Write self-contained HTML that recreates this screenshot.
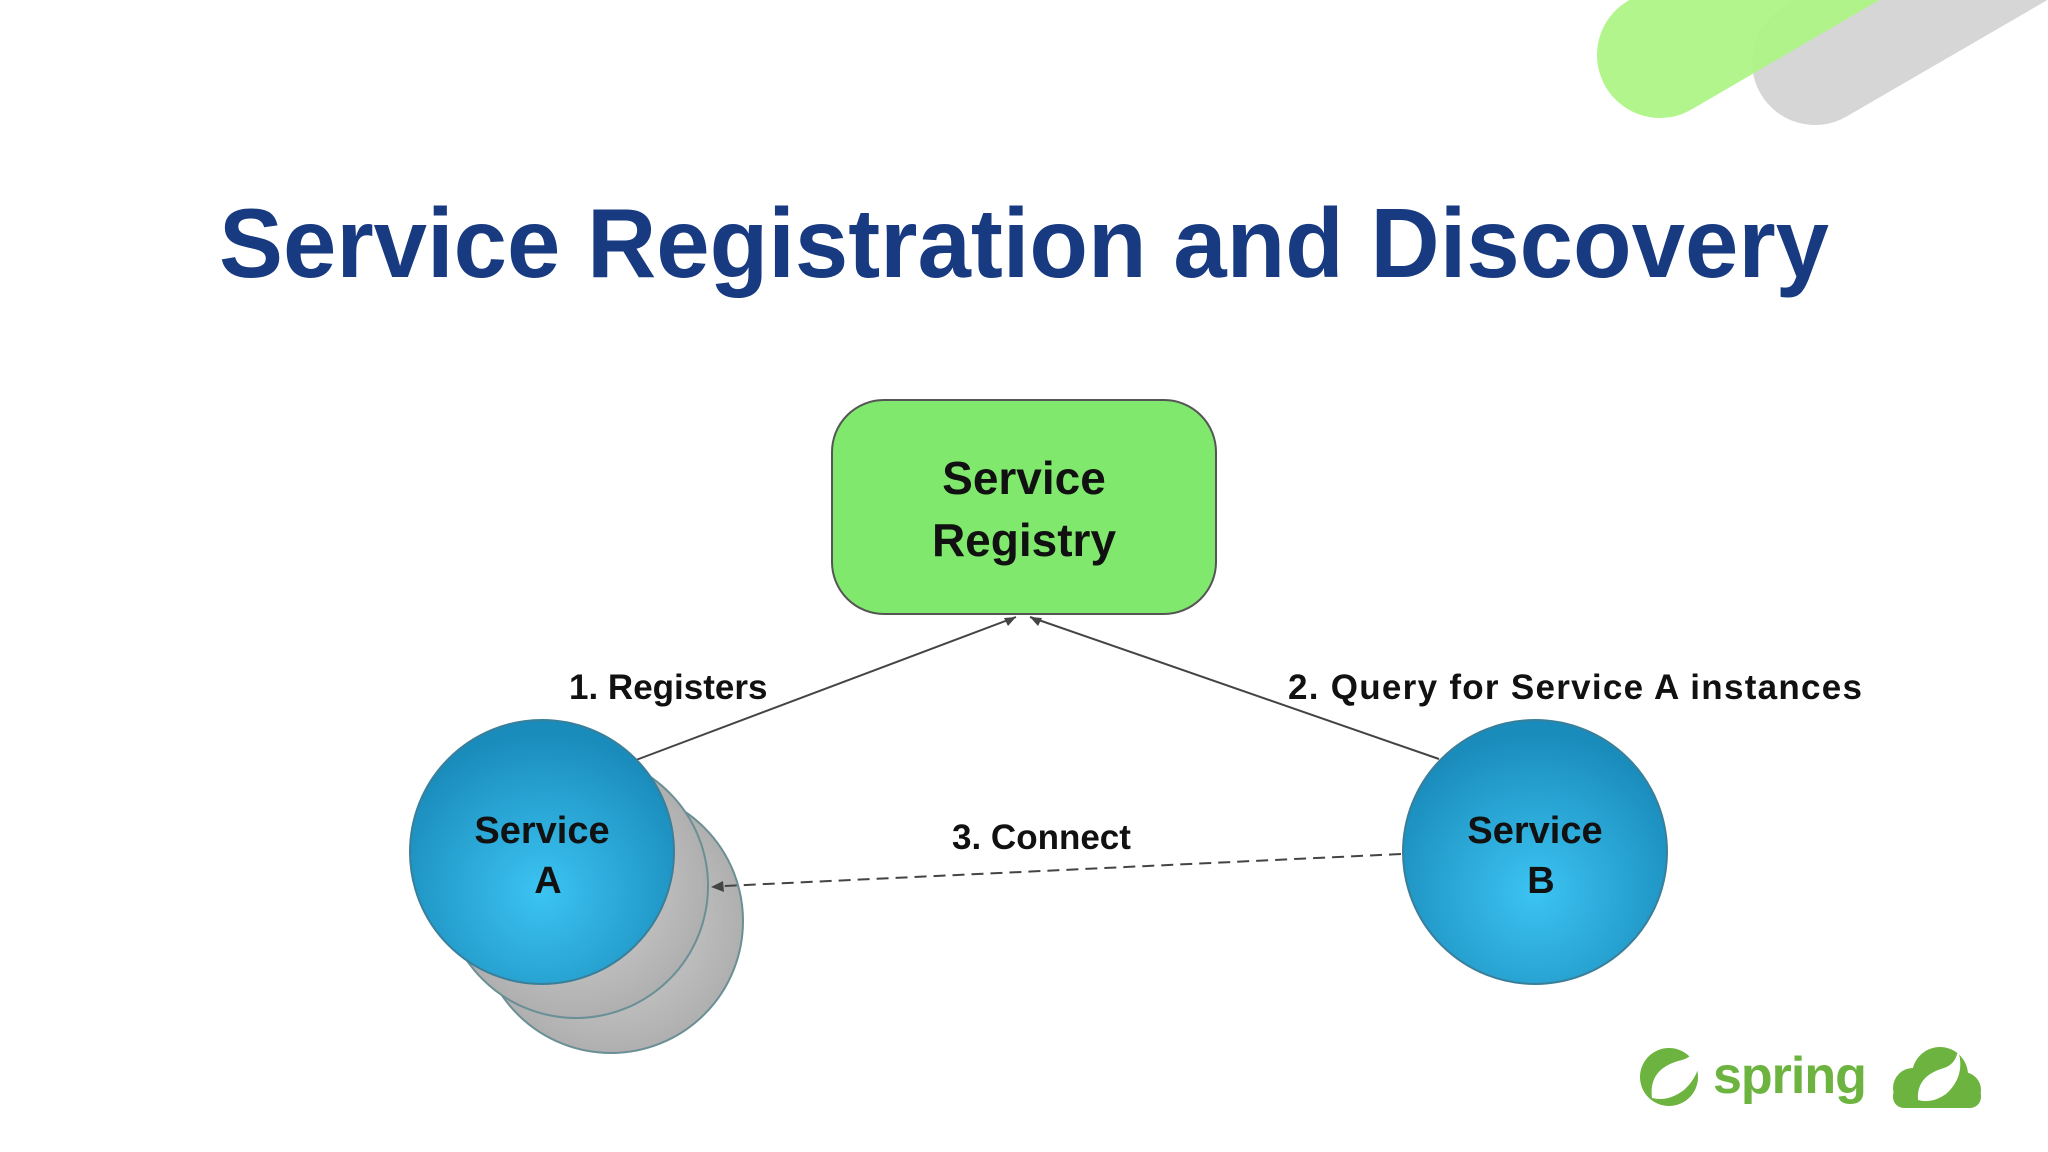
<!DOCTYPE html>
<html><head><style>
body{margin:0;width:2048px;height:1152px;background:#fff;overflow:hidden;position:relative;font-family:"Liberation Sans",sans-serif}
</style></head><body>
<svg width="2048" height="1152" style="position:absolute;left:0;top:0">
<defs>
<radialGradient id="bl" cx="50%" cy="65%" r="60%"><stop offset="0" stop-color="#3cc4f2"/><stop offset="1" stop-color="#1a8cbc"/></radialGradient>
<radialGradient id="gr" cx="50%" cy="50%" r="60%"><stop offset="0" stop-color="#d4d4d4"/><stop offset="1" stop-color="#a8a8a8"/></radialGradient>
</defs>
<line x1="1815" y1="62" x2="2120" y2="-115" stroke="#d6d6d6" stroke-width="126" stroke-linecap="round"/>
<line x1="1660" y1="55" x2="1960" y2="-120" stroke="#aef586" stroke-width="126" stroke-linecap="round" opacity="0.95"/>
<text x="219" y="277" font-size="98" font-weight="bold" fill="#183a80" font-family="Liberation Sans" textLength="1610" lengthAdjust="spacingAndGlyphs">Service Registration and Discovery</text>
<rect x="832" y="400" width="384" height="214" rx="52" fill="#80e96d" stroke="#555" stroke-width="2"/>
<text x="1024" y="494" text-anchor="middle" font-size="46" font-weight="bold" fill="#111">Service</text>
<text x="1024" y="556" text-anchor="middle" font-size="46" font-weight="bold" fill="#111">Registry</text>
<line x1="636" y1="760" x2="1016" y2="617" stroke="#444" stroke-width="2"/>
<line x1="1439" y1="759" x2="1030" y2="617" stroke="#444" stroke-width="2"/>
<path d="M1016 617 l-12 1 l4 8z" fill="#444"/>
<path d="M1030 617 l12 1 l-4 8z" fill="#444"/>
<circle cx="611" cy="921" r="132" fill="url(#gr)" stroke="#6a8f95" stroke-width="2"/>
<circle cx="576" cy="886" r="132" fill="url(#gr)" stroke="#6a8f95" stroke-width="2"/>
<circle cx="542" cy="852" r="132" fill="url(#bl)" stroke="#3a7f9a" stroke-width="2"/>
<circle cx="1535" cy="852" r="132" fill="url(#bl)" stroke="#3a7f9a" stroke-width="2"/>
<line x1="1401" y1="854" x2="724" y2="886" stroke="#444" stroke-width="2" stroke-dasharray="12,7"/>
<path d="M711 887 l12 -6 l1 11z" fill="#444"/>
<text x="542" y="843" text-anchor="middle" font-size="38" font-weight="bold" fill="#111">Service</text>
<text x="548" y="893" text-anchor="middle" font-size="38" font-weight="bold" fill="#111">A</text>
<text x="1535" y="843" text-anchor="middle" font-size="38" font-weight="bold" fill="#111">Service</text>
<text x="1541" y="893" text-anchor="middle" font-size="38" font-weight="bold" fill="#111">B</text>
<text x="569" y="699" font-size="35" font-weight="bold" fill="#111">1. Registers</text>
<text x="1288" y="699" font-size="35" font-weight="bold" fill="#111" textLength="574">2. Query for Service A instances</text>
<text x="952" y="849" font-size="35" font-weight="bold" fill="#111">3. Connect</text>
<circle cx="1669" cy="1077" r="29" fill="#6db33f"/>
<path d="M1652 1098 q-4 -30 30 -38 q14 -4 16 -20 q8 30 -14 50 q-16 12 -32 8z" fill="#fff"/>
<text x="1713" y="1093" font-size="52" font-weight="bold" fill="#6db33f" letter-spacing="-1">spring</text>
<circle cx="1940" cy="1075" r="28" fill="#6db33f"/>
<circle cx="1913" cy="1088" r="20" fill="#6db33f"/>
<circle cx="1963" cy="1090" r="18" fill="#6db33f"/>
<rect x="1893" y="1085" width="88" height="23" rx="11" fill="#6db33f"/>
<path d="M1918 1100 q-2 -24 26 -32 q12 -4 14 -18 q8 26 -12 44 q-14 10 -28 6z" fill="#fff"/>
</svg>
</body></html>
